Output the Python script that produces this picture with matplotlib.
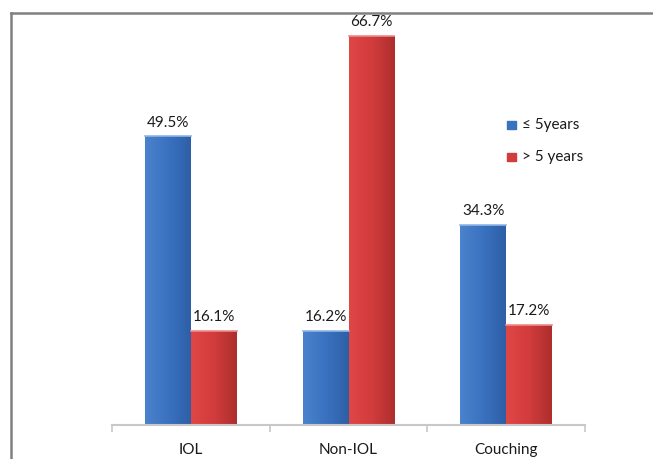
import matplotlib.pyplot as plt
import matplotlib.lines as mlines
import matplotlib.patches as mpatches
import numpy as np
from matplotlib.colors import LinearSegmentedColormap

plt.rcParams['font.family'] = ['Lato', 'DejaVu Sans']

categories = ["IOL", "Non-IOL", "Couching"]
le5_years = [49.5, 16.2, 34.3]
gt5_years = [16.1, 66.7, 17.2]
series_names = ["\u2264 5years", "> 5 years"]

W, H = 653, 459
fig = plt.figure(figsize=(W / 100, H / 100), dpi=100)
ax = fig.add_axes([112 / W, 34 / H, (585 - 112) / W, (425 - 17) / H])

blue_cmap = LinearSegmentedColormap.from_list("b", ["#4A82CC", "#3A72C0", "#2E5FA6"])
red_cmap = LinearSegmentedColormap.from_list("r", ["#E04646", "#D23C3C", "#AE2E2E"])

x = np.arange(len(categories))
bw = 0.29
grad = np.linspace(0, 1, 64).reshape(1, -1)

def grad_bars(xs, vals, cmap, edge):
    bars = ax.bar(xs, vals, bw, color="none", edgecolor="none", zorder=2)
    for b in bars:
        x0, w, h = b.get_x(), b.get_width(), b.get_height()
        im = ax.imshow(grad, cmap=cmap, aspect="auto", extent=[x0, x0 + w, 0, h], zorder=2)
        im.set_clip_path(b)
        ax.plot([x0, x0 + w], [h, h], color=edge, lw=1.2, zorder=3)
    return bars

b1 = grad_bars(x - bw / 2, le5_years, blue_cmap, "#8FB6E6")
b2 = grad_bars(x + bw / 2, gt5_years, red_cmap, "#EE8A8A")

for xs, vals in [(x - bw / 2, le5_years), (x + bw / 2, gt5_years)]:
    for xi, v in zip(xs, vals):
        ax.annotate(f"{v}%", (xi, v), xytext=(0, 5), textcoords="offset points",
                    ha="center", va="bottom", fontsize=11, color="#1a1a1a")

ax.set_xlim(-0.5, len(categories) - 0.5)
ax.set_ylim(0, 70)
for s in ["top", "right", "left"]:
    ax.spines[s].set_visible(False)
ax.spines["bottom"].set_color("#C8C8C8")
ax.spines["bottom"].set_linewidth(1.5)
ax.set_yticks([])
ax.set_xticks(np.arange(len(categories) + 1) - 0.5, minor=True)
ax.tick_params(axis="x", which="minor", length=5, color="#C8C8C8", width=1.2)
ax.set_xticks(x)
ax.set_xticklabels(categories, fontsize=11, color="#1a1a1a")
ax.tick_params(axis="x", which="major", length=0, pad=13)

# legend
for yy, col, name in [(125, "#3A72C0", series_names[0]), (157, "#D23C3C", series_names[1])]:
    fig.add_artist(mpatches.Rectangle((507 / W, 1 - (yy + 4) / H), 9 / W, 8 / H,
                                      color=col, transform=fig.transFigure))
    fig.text(522 / W, 1 - yy / H, name, fontsize=11, va="center", ha="left", color="#1a1a1a")

# outer frame
fig.add_artist(mlines.Line2D([11 / W, 11 / W], [0, 1 - 13 / H], color="#808080", lw=1.8))
fig.add_artist(mlines.Line2D([11 / W, 1], [1 - 13 / H, 1 - 13 / H], color="#808080", lw=1.8))

fig.savefig("out.png", dpi=100)
